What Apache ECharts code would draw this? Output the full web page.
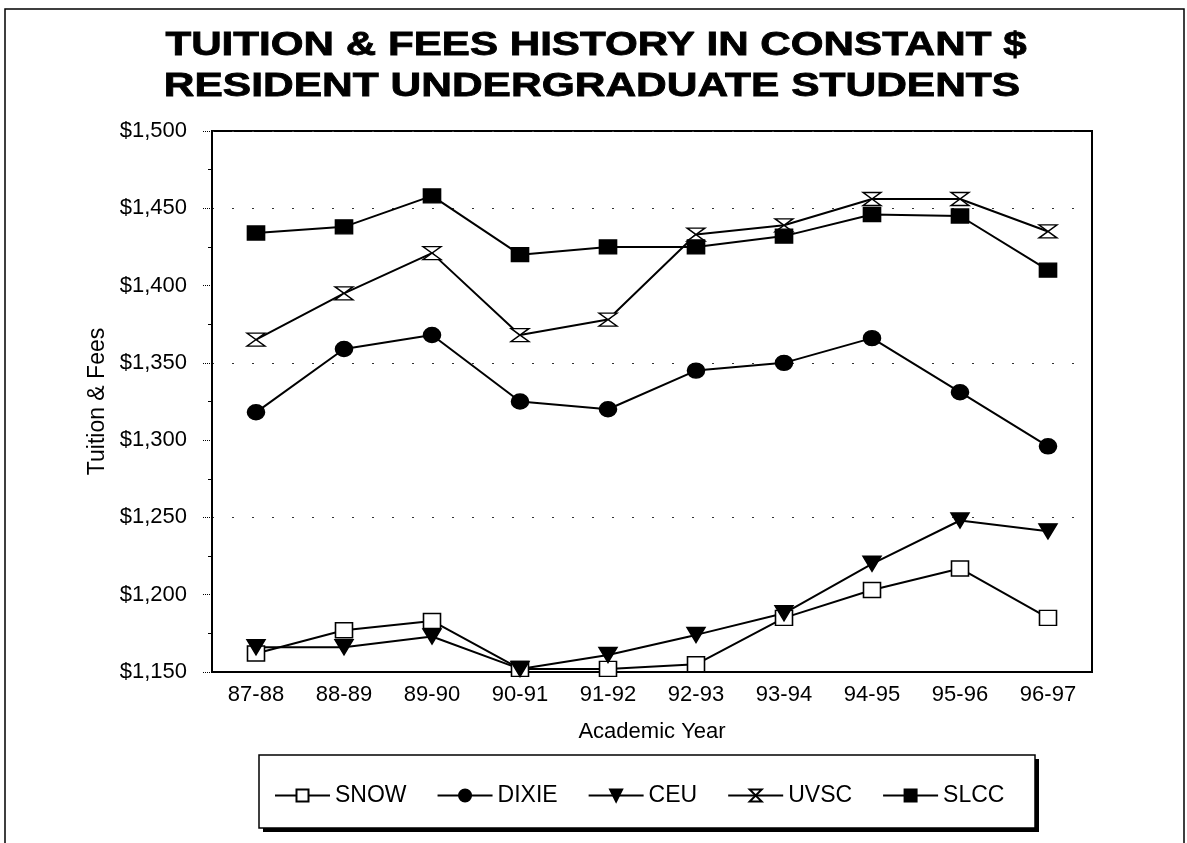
<!DOCTYPE html>
<html>
<head>
<meta charset="utf-8">
<title>Tuition & Fees History</title>
<script src="https://cdn.jsdelivr.net/npm/echarts@6/dist/echarts.min.js"></script>
<style>
    html, body { margin: 0; padding: 0; background: #fff; }
    #main { width: 1187px; height: 843px; }
</style>
</head>
<body>
<div id="main"></div>
<script>
// chart data
var years = ['87-88', '88-89', '89-90', '90-91', '91-92', '92-93', '93-94', '94-95', '95-96', '96-97'];
var snow = [1162, 1177, 1183, 1152, 1152, 1155, 1185, 1203, 1217, 1185];
var dixie = [1318, 1359, 1368, 1325, 1320, 1345, 1350, 1366, 1331, 1296];
var ceu = [1166, 1166, 1173, 1152, 1161, 1174, 1188, 1220, 1248, 1241];
var uvsc = [1365, 1395, 1421, 1368, 1378, 1433, 1439, 1456, 1456, 1435];
var slcc = [1434, 1438, 1458, 1420, 1425, 1425, 1432, 1446, 1445, 1410];
var yMin = 1150;
var yMax = 1500;

var titleLines = ['TUITION & FEES HISTORY IN CONSTANT $', 'RESIDENT UNDERGRADUATE STUDENTS'];
var font = '"Liberation Sans", Arial, sans-serif';

var hourglass = 'path://M0,0 L10,0 L0,10 L10,10 Z';

function money(v) {
    return '$' + String(v).replace(/\B(?=(\d{3})+(?!\d))/g, ',');
}

function line(name, data, symbol, size, fill, extra) {
    var s = {
        name: name,
        type: 'line',
        data: data,
        symbol: symbol,
        symbolSize: size,
        showAllSymbol: true,
        lineStyle: { color: '#000', width: 2 },
        itemStyle: { color: fill, borderColor: '#000', borderWidth: 1.5 },
        emphasis: { disabled: true }
    };
    for (var k in extra) s[k] = extra[k];
    return s;
}

function titleText(text, x, y, sx) {
    return {
        type: 'text', x: x, y: y, scaleX: sx,
        style: {
            text: text, font: 'bold 34px ' + font, fill: '#000',
            stroke: '#000', lineWidth: 0.8,
            align: 'center', verticalAlign: 'middle', textAlign: 'center', textVerticalAlign: 'middle'
        }
    };
}

var chart = echarts.init(document.getElementById('main'));

var option = {
    backgroundColor: '#fff',
    animation: false,
    textStyle: { fontFamily: font, color: '#000' },
    grid: {
        left: 212, right: 95, top: 131, bottom: 171,
        show: true, borderColor: '#000', borderWidth: 2, backgroundColor: 'transparent'
    },
    legend: {
        left: 274, top: 784,
        padding: 0,
        itemWidth: 55, itemHeight: 15, itemGap: 30,
        textStyle: { fontSize: 23, color: '#000', fontFamily: font },
        data: ['SNOW', 'DIXIE', 'CEU', 'UVSC', 'SLCC']
    },
    xAxis: {
        type: 'category',
        data: years,
        boundaryGap: true,
        name: 'Academic Year',
        nameLocation: 'middle',
        nameGap: 49,
        nameTextStyle: { fontSize: 22, color: '#000' },
        axisLine: { lineStyle: { color: '#000', width: 2 } },
        axisTick: { alignWithLabel: true, length: 10, lineStyle: { color: '#000', type: 'dotted' } },
        axisLabel: { fontSize: 22, color: '#000', margin: 12 },
        splitLine: { show: false }
    },
    yAxis: [{
        type: 'value',
        min: yMin, max: yMax, interval: 50,
        name: 'Tuition & Fees',
        nameLocation: 'middle',
        nameGap: 94,
        nameTextStyle: { fontSize: 23, color: '#000' },
        axisLine: { show: true, lineStyle: { color: '#000', width: 2 } },
        axisTick: { show: true, length: 9, lineStyle: { color: '#000', type: 'dotted' } },
        minorTick: { show: true, splitNumber: 2, length: 4, lineStyle: { color: '#000' } },
        axisLabel: { fontSize: 22, color: '#000', margin: 25, formatter: money },
        splitLine: { show: false }
    }, {
        // dotted grid every $100 from the bottom
        type: 'value',
        min: yMin, max: yMax, interval: 100,
        position: 'left',
        axisLine: { show: false },
        axisTick: { show: false },
        axisLabel: { show: false },
        splitLine: { show: true, lineStyle: { color: '#333', width: 1.2, type: [2, 18] } }
    }],
    series: [
        line('SNOW', snow, 'rect', [17, 15], '#fff'),
        line('DIXIE', dixie, 'circle', [17, 15], '#000'),
        line('CEU', ceu, 'triangle', [18, 15], '#000', { symbolRotate: 180 }),
        line('UVSC', uvsc, hourglass, [18, 13], '#fff'),
        line('SLCC', slcc, 'rect', [17, 14], '#000')
    ],
    graphic: [
        // page frame
        { type: 'rect', z: -10, shape: { x: 5, y: 9, width: 1179, height: 845 },
          style: { fill: 'none', stroke: '#000', lineWidth: 1.5 } },
        // legend box with drop shadow
        { type: 'rect', z: -10, shape: { x: 263, y: 759, width: 776, height: 73 },
          style: { fill: '#000' } },
        { type: 'rect', z: -9, shape: { x: 259, y: 755, width: 776, height: 73 },
          style: { fill: '#fff', stroke: '#000', lineWidth: 1.5 } },
        // two line title, stretched like the original typeface
        titleText(titleLines[0], 596, 46, 1.24),
        titleText(titleLines[1], 592, 87, 1.25)
    ]
};

chart.setOption(option);
</script>
</body>
</html>
